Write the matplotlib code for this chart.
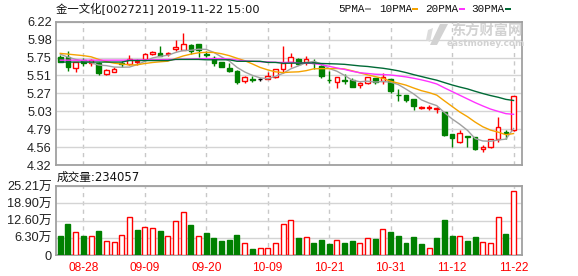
import numpy as np
import pandas as pd
import matplotlib
matplotlib.use('Agg')
import matplotlib.pyplot as plt
from matplotlib.patches import Polygon, Rectangle

# ---------------- data ----------------
dates = ['08-23', '08-26', '08-27', '08-28', '08-29', '08-30',
         '09-02', '09-03', '09-04', '09-05', '09-06', '09-09', '09-10', '09-11', '09-12',
         '09-16', '09-17', '09-18', '09-19', '09-20', '09-23', '09-24', '09-25', '09-26',
         '09-27', '09-30', '10-08', '10-09', '10-10', '10-11', '10-14', '10-15', '10-16',
         '10-17', '10-18', '10-21', '10-22', '10-23', '10-24', '10-25', '10-28', '10-29',
         '10-30', '10-31', '11-01', '11-04', '11-05', '11-06', '11-07', '11-08', '11-11',
         '11-12', '11-13', '11-14', '11-15', '11-18', '11-19', '11-20', '11-21', '11-22']

opens = [5.75, 5.755, 5.61, 5.71, 5.67, 5.667, 5.53, 5.557, 5.675, 5.654,
         5.69, 5.729, 5.787, 5.804, 5.79, 5.86, 5.848, 5.91, 5.928, 5.79,
         5.742, 5.69, 5.60, 5.565, 5.432, 5.46, 5.46, 5.464, 5.49, 5.596,
         5.685, 5.725, 5.69, 5.69, 5.632, 5.45, 5.424, 5.45, 5.45, 5.376,
         5.406, 5.468, 5.428, 5.46, 5.254, 5.247, 5.194, 5.07, 5.075, 5.057,
         5.025, 4.725, 4.627, 4.70, 4.686, 4.53, 4.56, 4.66, 4.755, 4.782]
highs = [5.78, 5.83, 5.69, 5.74, 5.73, 5.68, 5.59, 5.615, 5.70, 5.778,
         5.72, 5.80, 5.83, 5.897, 5.82, 5.977, 6.074, 5.924, 5.928, 5.825,
         5.76, 5.69, 5.667, 5.58, 5.503, 5.50, 5.475, 5.548, 5.588, 5.90,
         5.804, 5.745, 5.765, 5.725, 5.645, 5.56, 5.49, 5.53, 5.467, 5.426,
         5.49, 5.468, 5.543, 5.46, 5.33, 5.247, 5.194, 5.10, 5.115, 5.084,
         5.025, 4.737, 4.79, 4.70, 4.686, 4.59, 4.665, 4.95, 4.79, 5.229]
lows = [5.68, 5.565, 5.55, 5.63, 5.63, 5.515, 5.517, 5.557, 5.62, 5.645,
        5.65, 5.72, 5.775, 5.765, 5.76, 5.835, 5.844, 5.787, 5.756, 5.75,
        5.636, 5.62, 5.55, 5.40, 5.405, 5.42, 5.44, 5.46, 5.48, 5.543,
        5.62, 5.645, 5.65, 5.59, 5.477, 5.41, 5.344, 5.40, 5.35, 5.344,
        5.393, 5.39, 5.40, 5.28, 5.17, 5.15, 5.048, 5.057, 5.05, 5.004,
        4.70, 4.56, 4.61, 4.56, 4.52, 4.49, 4.55, 4.63, 4.66, 4.77]
closes = [5.69, 5.614, 5.685, 5.675, 5.716, 5.534, 5.578, 5.59, 5.665, 5.724,
          5.70, 5.791, 5.817, 5.769, 5.80, 5.88, 5.924, 5.83, 5.845, 5.785,
          5.676, 5.623, 5.565, 5.424, 5.481, 5.45, 5.46, 5.504, 5.588, 5.676,
          5.747, 5.658, 5.72, 5.67, 5.503, 5.445, 5.481, 5.44, 5.35, 5.406,
          5.481, 5.42, 5.481, 5.305, 5.245, 5.18, 5.10, 5.09, 5.093, 5.075,
          4.716, 4.68, 4.738, 4.69, 4.526, 4.56, 4.66, 4.82, 4.75, 5.229]

# moving-average values before the window fills
ma5_head = [5.79, 5.75, 5.72, 5.70]
ma10_head = [5.80, 5.79, 5.78, 5.77, 5.755, 5.72, 5.69, 5.67, 5.658]
ma20_head = [5.71, 5.71, 5.71, 5.71, 5.71, 5.71, 5.71, 5.71, 5.71, 5.712,
             5.713, 5.714, 5.715, 5.716, 5.718, 5.72, 5.722, 5.725, 5.728]
ma30_head = [5.685, 5.685, 5.685, 5.685, 5.685, 5.685, 5.685, 5.685, 5.685,
             5.705, 5.705, 5.705, 5.705, 5.705, 5.705,
             5.72, 5.72, 5.72, 5.72,
             5.715, 5.715, 5.715, 5.715,
             5.695, 5.695, 5.695, 5.695,
             5.68, 5.68]

# volume in 万 (10k)
volumes = [6.95, 11.3, 8.3, 6.95, 6.8, 8.8, 5.0, 4.6, 7.2, 13.8,
           9.1, 10.1, 9.75, 8.8, 6.8, 12.3, 15.6, 11.0, 6.8, 8.05,
           6.2, 5.1, 5.5, 7.3, 4.3, 2.2, 2.6, 2.6, 4.3, 11.2,
           12.7, 6.2, 6.5, 4.4, 5.5, 4.0, 5.4, 4.4, 5.1, 4.3,
           6.2, 5.85, 9.5, 8.4, 6.95, 4.4, 6.6, 4.0, 2.6, 6.2,
           12.8, 6.95, 6.8, 5.1, 6.6, 4.6, 4.3, 13.8, 7.7, 23.4057]
vol_up = [0, 0, 1, 0, 1, 0, 1, 1, 1, 1,
          0, 1, 1, 0, 1, 1, 1, 0, 1, 0,
          0, 0, 0, 0, 1, 0, 1, 1, 1, 1,
          1, 0, 1, 0, 0, 0, 1, 0, 0, 1,
          1, 0, 1, 0, 0, 0, 0, 0, 1, 0,
          0, 0, 1, 0, 0, 1, 1, 1, 0, 1]
last_volume = 234057

price_tick_labels = ['4.32', '4.56', '4.79', '5.03', '5.27', '5.51', '5.75', '5.98', '6.22']
vol_tick_labels = ['0', '6.30万', '12.60万', '18.90万', '25.21万']
price_min, price_max = 4.32, 6.22
vol_max = 25.21
title = '金一文化[002721] 2019-11-22 15:00'
ma_names = ['5PMA', '10PMA', '20PMA', '30PMA']
ma_colors = ['#a0a0a0', '#f5a300', '#ff33ff', '#006a36']

RED = '#ff0000'
GREEN = '#008000'
GRID = '#d4d4d4'
SPINE = '#a0a0a0'

# ---------------- derived ----------------
s = pd.Series(closes)
mas = []
for n, head in zip([5, 10, 20, 30], [ma5_head, ma10_head, ma20_head, ma30_head]):
    m = s.rolling(n).mean().to_numpy()
    m[:n - 1] = head
    mas.append(m)

x = np.arange(len(closes))
o = np.array(opens); h = np.array(highs); l = np.array(lows); c = np.array(closes)
ccol = np.where(c > o, RED, np.where(c < o, GREEN, '#000000'))
cface = np.where(c > o, '#ffffff', np.where(c < o, GREEN, '#000000'))

# ---------------- figure ----------------
W, H = 578, 276
fig = plt.figure(figsize=(W / 100, H / 100), dpi=100)
fig.patch.set_facecolor('white')

def fx(px):
    return px / W

def fy(py):
    return 1 - py / H

ax1 = fig.add_axes([fx(56), fy(165), (522 - 56) / W, (165 - 21.7) / H])
ax2 = fig.add_axes([fx(56), fy(255), (522 - 56) / W, (255 - 186) / H])

xlim = (-0.56, 60.1)
tick_idx = list(range(3, len(dates), 8))

for ax in (ax1, ax2):
    ax.set_xlim(*xlim)
    for sp in ax.spines.values():
        sp.set_color(SPINE)
        sp.set_linewidth(1.3)
    ax.set_xticks(tick_idx)
    ax.xaxis.grid(True, color='#c8c8c8', lw=1, ls=(0, (3, 3)))
    ax.yaxis.grid(True, color=GRID, lw=1)
    ax.set_axisbelow(True)
    ax.tick_params(length=0)

# price panel
ax1.set_ylim(price_min, price_max)
ax1.set_yticks(np.linspace(price_min, price_max, len(price_tick_labels)))
ax1.set_yticklabels(price_tick_labels, fontsize=9.2, color='#222222', family='Liberation Sans')
ax1.tick_params(axis='y', pad=3)
ax1.set_xticklabels([])

ax1.vlines(x, l, h, colors=ccol, lw=1, zorder=3)
ax1.bar(x, np.abs(c - o), bottom=np.minimum(o, c), width=0.6,
        facecolor=cface, edgecolor=ccol, lw=1, zorder=4)
for m, col in zip(mas, ma_colors):
    ax1.plot(x, m, color=col, lw=1, zorder=5)

# volume panel
ax2.set_ylim(0, vol_max)
ax2.set_yticks(np.linspace(0, vol_max, len(vol_tick_labels)))
ax2.set_yticklabels(vol_tick_labels, fontsize=9.2, color='#222222',
                    family=['Liberation Sans', 'Noto Sans CJK SC'])
ax2.tick_params(axis='y', pad=3)
ax2.set_xticklabels([dates[i] for i in tick_idx], fontsize=8.6, color=RED,
                    family='Liberation Sans')
ax2.tick_params(axis='x', pad=5)
vup = np.array(vol_up, dtype=bool)
ax2.bar(x, volumes, width=0.65, facecolor=np.where(vup, '#ffffff', GREEN),
        edgecolor=np.where(vup, RED, GREEN), lw=1, zorder=3)

# texts
fig.text(fx(56), fy(9), title, ha='left', va='center', fontsize=8.2,
         family=['DejaVu Sans', 'Noto Sans CJK SC'], color='#111111')
fig.text(fx(57), fy(177.5), f'成交量:{last_volume}', ha='left', va='center', fontsize=8.4,
         family=['DejaVu Sans', 'Noto Sans CJK SC'], color='#111111')

leg_x = [338.0, 379.5, 425.0, 471.0]
dash_x = [364.7, 412, 459, 505]
for name, col, lx, dx in zip(ma_names, ma_colors, leg_x, dash_x):
    fig.text(fx(lx), fy(9), name, ha='left', va='center', fontsize=7.9,
             family='Liberation Mono', color='#111111')
    fig.patches.append(Rectangle((fx(dx), fy(10.3)), 6 / W, 2.6 / H,
                                 transform=fig.transFigure, facecolor=col,
                                 edgecolor='none', figure=fig))

# watermark
fig.text(fx(486.5), fy(31.5), '东方财富网', ha='center', va='center', fontsize=10.3,
         fontweight='bold', family='Noto Sans CJK SC', color='#d2d2d2')
fig.text(fx(486), fy(43), 'eastmoney.com', ha='center', va='center', fontsize=6.4,
         fontweight='bold', family='DejaVu Sans', color='#d2d2d2')
logo = [(440, 24), (448, 24), (437, 45), (430, 45)]
fig.patches.append(Polygon([(fx(px), fy(py)) for px, py in logo], closed=True,
                           transform=fig.transFigure, facecolor='#d2d2d2',
                           edgecolor='none', figure=fig))
logo2 = [(428, 30), (433, 28), (430, 42), (426, 40)]
fig.patches.append(Polygon([(fx(px), fy(py)) for px, py in logo2], closed=True,
                           transform=fig.transFigure, facecolor='#dcdcdc',
                           edgecolor='none', figure=fig))

fig.savefig('out.png', dpi=100, facecolor='white')
